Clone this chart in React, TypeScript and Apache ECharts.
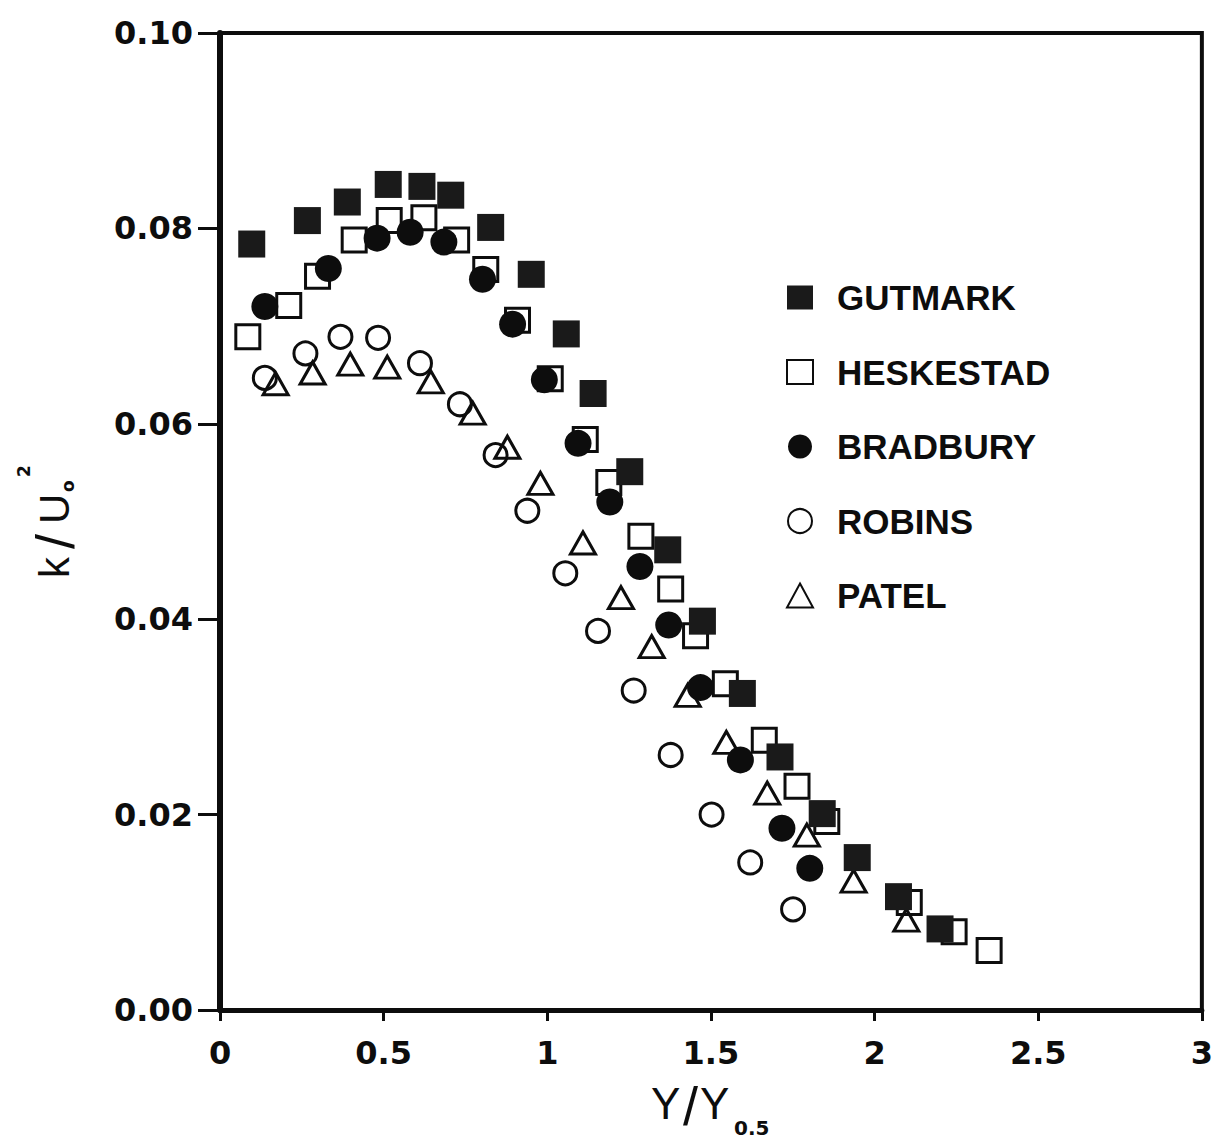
import React, { useEffect, useRef } from "react";
import * as echarts from "echarts";

// ---- data ----
const gutmarkX = [0.097, 0.267, 0.389, 0.514, 0.617, 0.705, 0.827, 0.951, 1.058, 1.14, 1.252, 1.368, 1.474, 1.596, 1.711, 1.84, 1.947, 2.073, 2.2];
const gutmarkY = [0.0784, 0.0808, 0.0827, 0.0845, 0.0843, 0.0834, 0.0801, 0.0753, 0.0692, 0.0631, 0.0551, 0.0471, 0.0398, 0.0324, 0.0259, 0.0201, 0.0156, 0.0116, 0.0083];

const heskestadX = [0.085, 0.21, 0.298, 0.41, 0.517, 0.623, 0.723, 0.812, 0.909, 1.009, 1.116, 1.188, 1.286, 1.377, 1.453, 1.544, 1.663, 1.763, 1.854, 2.106, 2.243, 2.35];
const heskestadY = [0.0689, 0.0721, 0.0751, 0.0788, 0.0808, 0.0811, 0.0788, 0.0758, 0.0706, 0.0646, 0.0584, 0.054, 0.0485, 0.0431, 0.0383, 0.0334, 0.0276, 0.0229, 0.0193, 0.011, 0.008, 0.0061];

const bradburyX = [0.137, 0.331, 0.48, 0.581, 0.684, 0.802, 0.894, 0.991, 1.094, 1.191, 1.283, 1.371, 1.468, 1.59, 1.717, 1.802];
const bradburyY = [0.072, 0.0759, 0.079, 0.0796, 0.0786, 0.0748, 0.0702, 0.0645, 0.058, 0.052, 0.0454, 0.0394, 0.033, 0.0256, 0.0186, 0.0145];

const robinsX = [0.137, 0.261, 0.368, 0.483, 0.611, 0.733, 0.842, 0.939, 1.055, 1.155, 1.264, 1.377, 1.502, 1.62, 1.751];
const robinsY = [0.0647, 0.0672, 0.0689, 0.0688, 0.0662, 0.062, 0.0568, 0.0511, 0.0447, 0.0388, 0.0327, 0.0261, 0.02, 0.0151, 0.0103];

const patelX = [0.17, 0.283, 0.398, 0.511, 0.644, 0.772, 0.878, 0.979, 1.109, 1.225, 1.319, 1.429, 1.547, 1.672, 1.793, 1.936, 2.097];
const patelY = [0.0641, 0.0652, 0.0661, 0.0658, 0.0643, 0.0611, 0.0576, 0.0539, 0.0478, 0.0422, 0.0372, 0.0322, 0.0274, 0.0222, 0.0179, 0.0132, 0.0092];

const legendOrder = ["GUTMARK", "HESKESTAD", "BRADBURY", "ROBINS", "PATEL"];

const xMin = 0, xMax = 3, xStep = 0.5;
const yMin = 0, yMax = 0.1, yStep = 0.02;

const INK = "#0d0d0d";

function pts(xs: number[], ys: number[]) {
  return xs.map((x, i) => [x, ys[i]]);
}

export default function App() {
  const ref = useRef<HTMLDivElement>(null);

  useEffect(() => {
    if (!ref.current) return;
    const chart = echarts.init(ref.current, null, { renderer: "svg" });

    const openStyle = { color: "rgba(255,255,255,0)", borderColor: INK, borderWidth: 3, opacity: 1 };
    const solidStyle = { color: INK, borderColor: INK, borderWidth: 0, opacity: 1 };

    const txt = (text: string, x: number, y: number, fontSize: number, extra: any = {}) => ({
      type: "text",
      x,
      y,
      silent: true,
      style: {
        text,
        fontFamily: "Liberation Sans",
        fontSize,
        fill: INK,
        verticalAlign: "middle",
        align: "left",
        ...extra,
      },
    });

    const option: any = {
      animation: false,
      backgroundColor: "#fff",
      grid: {
        left: 220, right: 8, top: 33, bottom: 133,
        show: true, borderColor: INK, borderWidth: 4, backgroundColor: "transparent",
      },
      legend: {
        orient: "vertical",
        left: 781,
        top: 275,
        itemWidth: 26,
        itemHeight: 24,
        itemGap: 39.5,
        data: legendOrder,
        textStyle: {
          fontFamily: "Liberation Sans",
          fontSize: 35,
          fontWeight: "bold",
          color: INK,
          padding: [0, 0, 0, 19],
        },
      },
      xAxis: {
        type: "value",
        min: xMin, max: xMax, interval: xStep,
        axisLine: { show: true, onZero: false, lineStyle: { color: INK, width: 5 } },
        axisTick: { show: true, inside: false, length: 11, lineStyle: { color: INK, width: 3 } },
        splitLine: { show: false },
        axisLabel: {
          margin: 27,
          color: INK,
          fontFamily: "DejaVu Sans",
          fontWeight: "bold",
          fontSize: 32,
        },
      },
      yAxis: {
        type: "value",
        min: yMin, max: yMax, interval: yStep,
        axisLine: { show: true, onZero: false, lineStyle: { color: INK, width: 6 } },
        axisTick: { show: true, inside: false, length: 22, lineStyle: { color: INK, width: 3 } },
        splitLine: { show: false },
        axisLabel: {
          margin: 27,
          color: INK,
          fontFamily: "DejaVu Sans",
          fontWeight: "bold",
          fontSize: 32,
          formatter: (v: number) => v.toFixed(2),
        },
      },
      series: [
        { name: "HESKESTAD", type: "scatter", symbol: "rect", symbolSize: 24, itemStyle: openStyle, data: pts(heskestadX, heskestadY) },
        { name: "ROBINS", type: "scatter", symbol: "circle", symbolSize: 23, itemStyle: openStyle, data: pts(robinsX, robinsY) },
        { name: "PATEL", type: "scatter", symbol: "triangle", symbolSize: [25, 22], itemStyle: openStyle, data: pts(patelX, patelY) },
        { name: "BRADBURY", type: "scatter", symbol: "circle", symbolSize: 27, itemStyle: solidStyle, data: pts(bradburyX, bradburyY) },
        { name: "GUTMARK", type: "scatter", symbol: "rect", symbolSize: 27, itemStyle: { ...solidStyle, color: "#1a1a1a" }, data: pts(gutmarkX, gutmarkY) },
      ],
      graphic: [
        {
          type: "group",
          x: 54,
          y: 578,
          rotation: Math.PI / 2,
          silent: true,
          children: [
            txt("k", 0, 0, 42),
            txt("/", 29, 1, 54),
            txt("U", 54, 0, 42),
            txt("o", 86, 14, 17, { fontFamily: "DejaVu Sans", fontWeight: "bold" }),
            txt("2", 101, -30, 17, { fontFamily: "DejaVu Sans", fontWeight: "bold" }),
          ],
        },
        txt("Y", 651, 1103, 44),
        txt("/", 683, 1106, 54),
        txt("Y", 700, 1103, 44),
        txt("0.5", 734, 1128, 20, { fontFamily: "DejaVu Sans", fontWeight: "bold" }),
      ],
    };

    chart.setOption(option);
    return () => chart.dispose();
  }, []);

  return (
    <div
      ref={ref}
      style={{ position: "absolute", left: 0, top: 0, width: 1216, height: 1143, background: "#fff" }}
    />
  );
}
